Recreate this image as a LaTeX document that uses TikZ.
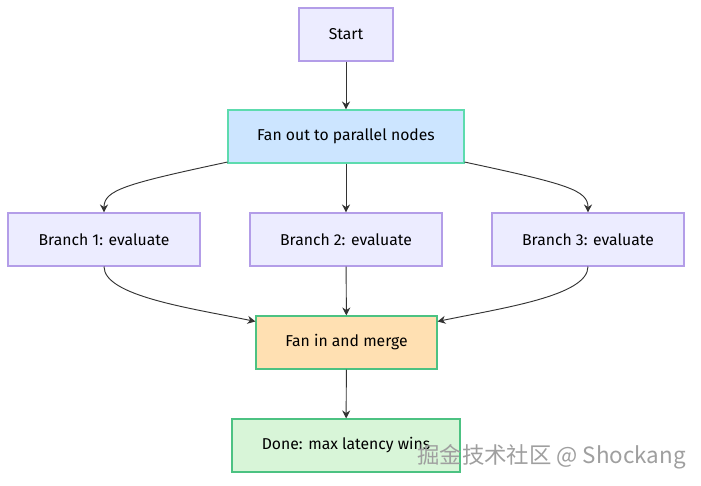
\documentclass[tikz,border=0pt]{standalone}
\usepackage{fontspec}
\setmainfont{Fira Sans}
\newfontfamily\cjk{Noto Sans CJK SC}
\usetikzlibrary{arrows.meta}
\definecolor{pfill}{HTML}{ECECFF}\definecolor{pdraw}{HTML}{B39DE8}
\definecolor{bfill}{HTML}{CCE5FF}\definecolor{bdraw}{HTML}{5DDBAE}
\definecolor{ofill}{HTML}{FFE0B2}\definecolor{gdraw}{HTML}{4CC282}
\definecolor{gfill}{HTML}{D8F5D8}\definecolor{edge}{HTML}{333333}
\begin{document}
\begin{tikzpicture}[x=0.75pt,y=-0.75pt,
 box/.style={draw=pdraw,fill=pfill,line width=0.8pt,inner sep=0pt,font=\fontsize{11.8}{14}\selectfont},
 e/.style={draw=edge,line width=0.7pt,-{Stealth[length=6pt,width=6pt]}}]
\useasboundingbox (0,0) rectangle (701,486);
\fill[white] (0,0) rectangle (701,486);
\node[box,minimum width=94*0.75pt,minimum height=53*0.75pt] (s) at (346,34.5) {Start};
\node[box,draw=bdraw,fill=bfill,minimum width=236*0.75pt,minimum height=53*0.75pt] (f) at (346,136.5) {Fan out to parallel nodes};
\node[box,minimum width=192*0.75pt,minimum height=53*0.75pt] (b1) at (104,239.5) {Branch 1: evaluate};
\node[box,minimum width=192*0.75pt,minimum height=53*0.75pt] (b2) at (346,239.5) {Branch 2: evaluate};
\node[box,minimum width=192*0.75pt,minimum height=53*0.75pt] (b3) at (588,239.5) {Branch 3: evaluate};
\node[box,draw=gdraw,fill=ofill,minimum width=181*0.75pt,minimum height=53*0.75pt] (m) at (346.5,342.5) {Fan in and merge};
\node[box,draw=gdraw,fill=gfill,minimum width=228*0.75pt,minimum height=53*0.75pt] (d) at (346,445.5) {Done: max latency wins};
\draw[e] (s) -- (f);
\draw[e] (f) -- (b2);
\draw[e] (b2) -- (m);
\draw[e] (m) -- (d);
\draw[e] (f.south west) ++(0,-2*0.75) .. controls (125,184) and (104,190) .. (b1.north);
\draw[e] (f.south east) ++(0,-2*0.75) .. controls (567,184) and (588,190) .. (b3.north);
\draw[e] (b1.south) .. controls (104,296) and (190,308) .. ([yshift=-6*0.75pt]m.north west);
\draw[e] (b3.south) .. controls (588,296) and (502,308) .. ([yshift=-6*0.75pt]m.north east);
\node[anchor=west,text=gray!75,font=\cjk\fontsize{16.8}{19}\selectfont,inner sep=0pt] (w) at (417,457) {掘金技术社区 @ Shockang};
\end{tikzpicture}
\end{document}
